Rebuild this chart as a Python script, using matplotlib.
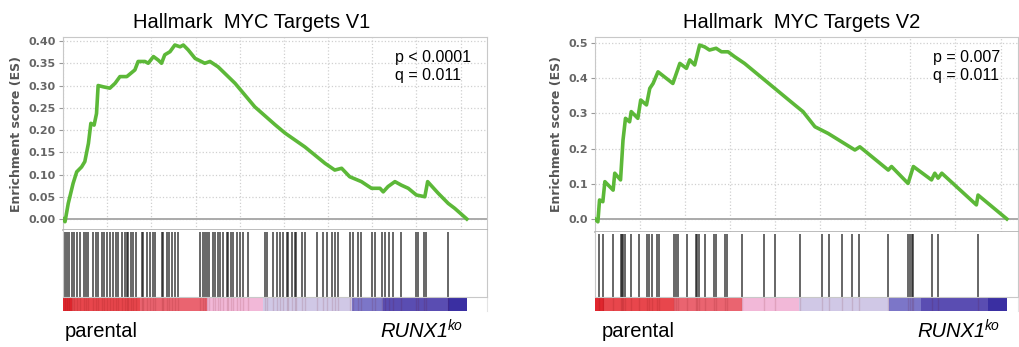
import matplotlib
matplotlib.use("Agg")
import matplotlib.pyplot as plt
from matplotlib.ticker import MultipleLocator, FormatStrFormatter

# running enrichment score, rank position scaled 0..1000
es1_rank = [0, 5, 13, 17, 25, 34, 46, 54, 63, 69, 77, 83, 87, 100, 116, 129, 141, 158, 178,
            186, 203, 211, 224, 236, 244, 252, 265, 277, 290, 298, 310, 327, 351, 364, 384,
            426, 475, 525, 550, 599, 649, 673, 690, 710, 739, 764, 785, 793, 805, 822, 838,
            855, 875, 896, 903, 929, 954, 970, 1000]
es1_score = [0.0, -0.006, 0.035, 0.05, 0.08, 0.106, 0.117, 0.129, 0.17, 0.215, 0.211, 0.237,
             0.30, 0.297, 0.294, 0.305, 0.32, 0.32, 0.335, 0.354, 0.354, 0.35, 0.365, 0.357,
             0.35, 0.369, 0.376, 0.391, 0.387, 0.391, 0.38, 0.361, 0.35, 0.354, 0.342, 0.305,
             0.252, 0.212, 0.193, 0.162, 0.125, 0.11, 0.114, 0.095, 0.084, 0.069, 0.069,
             0.061, 0.073, 0.084, 0.076, 0.069, 0.054, 0.05, 0.084, 0.058, 0.035, 0.024, 0.0]

es2_rank = [0, 7, 11, 19, 24, 44, 48, 62, 68, 74, 84, 88, 104, 111, 125, 133, 141, 153, 189,
            206, 222, 230, 242, 254, 266, 278, 294, 307, 323, 339, 363, 485, 505, 534, 566,
            631, 643, 712, 720, 760, 773, 817, 825, 833, 842, 926, 930, 1000]
es2_score = [0.0, -0.008, 0.054, 0.049, 0.106, 0.082, 0.13, 0.111, 0.224, 0.286, 0.276, 0.305,
             0.286, 0.338, 0.324, 0.371, 0.385, 0.418, 0.385, 0.442, 0.428, 0.452, 0.4375,
             0.494, 0.489, 0.48, 0.485, 0.475, 0.475, 0.461, 0.442, 0.324, 0.305, 0.262,
             0.243, 0.196, 0.205, 0.139, 0.149, 0.101, 0.149, 0.111, 0.13, 0.116, 0.13, 0.04,
             0.068, 0.0]

# gene set hits
hits1 = [5, 11, 16, 22, 27, 34, 42, 52, 57, 63, 75, 82, 87, 96, 101, 108, 116, 123, 131, 137,
         145, 153, 158, 162, 168, 174, 182, 195, 199, 209, 215, 224, 228, 244, 248, 257, 263,
         269, 277, 285, 339, 346, 351, 356, 362, 371, 376, 384, 390, 397, 405, 409, 415, 422,
         430, 438, 445, 459, 500, 505, 521, 529, 537, 545, 554, 558, 566, 574, 578, 591, 599,
         628, 644, 653, 665, 673, 681, 710, 718, 731, 739, 764, 772, 789, 797, 807, 818, 838,
         873, 879, 894, 900, 954]
hits2 = [10, 20, 43, 62, 65, 69, 73, 87, 108, 127, 132, 138, 151, 155, 192, 197, 202, 223,
         245, 248, 253, 267, 289, 294, 316, 320, 356, 410, 437, 498, 550, 569, 599, 625, 641,
         712, 760, 765, 769, 773, 817, 833, 930]

# ranked list metric colour bar
cb_edges = [0, 22, 191, 356, 495, 715, 792, 953, 1000]
cb_colors = ['#e0262e', '#e8464c', '#ea6470', '#f2b8d8', '#d0c8e6', '#7c76c8', '#5a4db2', '#3a2fa2']

panels = [
    dict(title='Hallmark  MYC Targets V1', rank=es1_rank, score=es1_score, hits=hits1,
         pq=['p < 0.0001', 'q = 0.011'], ylim=(-0.0247, 0.409), ystep=0.05, fmt='%.2f',
         xmax=1050, left=63, right=487, es_bot=230, tx=252, pqx=395,
         lab_l=65, lab_r=463),
    dict(title='Hallmark  MYC Targets V2', rank=es2_rank, score=es2_score, hits=hits2,
         pq=['p = 0.007', 'q = 0.011'], ylim=(-0.037, 0.517), ystep=0.1, fmt='%.1f',
         xmax=1027, left=595, right=1018, es_bot=232, tx=802, pqx=933,
         lab_l=602, lab_r=1000),
]

W, H = 1020, 347
fig = plt.figure(figsize=(W / 100, H / 100), dpi=100)
frame = '#c8c8c8'

for p in panels:
    x0 = p['left'] / W
    w = (p['right'] - p['left']) / W
    top, es_bot, hit_bot, cb_bot = 37, p['es_bot'], 297, 311
    ax = fig.add_axes([x0, 1 - es_bot / H, w, (es_bot - top) / H])
    axh = fig.add_axes([x0, 1 - hit_bot / H, w, (hit_bot - es_bot) / H])
    axc = fig.add_axes([x0, 1 - cb_bot / H, w, (cb_bot - hit_bot) / H])

    ax.plot(p['rank'], p['score'], color='#5cb838', lw=2.6, solid_joinstyle='round', zorder=3)
    ax.axhline(0, color='#aaaaaa', lw=1.4, zorder=2)
    ax.set_xlim(0, p['xmax'])
    ax.set_ylim(*p['ylim'])
    ax.yaxis.set_major_locator(MultipleLocator(p['ystep']))
    ax.yaxis.set_major_formatter(FormatStrFormatter(p['fmt']))
    ax.xaxis.set_major_locator(MultipleLocator(109.4))
    ax.grid(True, ls=':', color='#d0d0d0', lw=0.9)
    ax.set_xticklabels([])
    ax.tick_params(axis='x', length=0)
    ax.tick_params(axis='y', length=3, color='#999999', labelsize=8, labelcolor='#666666', pad=2)
    for lab in ax.get_yticklabels():
        lab.set_fontweight('bold')
    ax.set_ylabel('Enrichment score (ES)', fontsize=9, fontweight='bold', color='#555555', labelpad=4)
    for s in ax.spines.values():
        s.set_color(frame)
    ax.spines['bottom'].set_color('#b0b0b0')
    ax.spines['bottom'].set_linewidth(1.2)

    ax.text((p['pqx'] - p['left']) / (p['right'] - p['left']), 0.935, p['pq'][0] + '\n' + p['pq'][1],
            transform=ax.transAxes, ha='left', va='top', fontsize=11.5,
            family='Liberation Sans', linespacing=1.25)

    axh.vlines(p['hits'], 0, 0.97, color='#151515', alpha=0.7, lw=1.3)
    axh.set_xlim(0, p['xmax'])
    axh.set_ylim(0, 1)
    axh.set_xticks([])
    axh.set_yticks([])
    for s in axh.spines.values():
        s.set_color(frame)
    axh.spines['top'].set_visible(False)
    axh.spines['bottom'].set_visible(False)

    widths = [b - a for a, b in zip(cb_edges[:-1], cb_edges[1:])]
    axc.bar(cb_edges[:-1], [1] * len(widths), width=widths, align='edge', color=cb_colors, lw=0)
    axc.vlines(p['hits'], 0, 1, color='#600000', alpha=0.12, lw=1.0)
    axc.set_xlim(0, p['xmax'])
    axc.set_ylim(0, 1)
    axc.set_xticks([])
    axc.set_yticks([])
    for s in axc.spines.values():
        s.set_visible(False)
    axc.spines['top'].set_visible(True)
    axc.spines['top'].set_color(frame)
    axc.spines['right'].set_visible(True)
    axc.spines['right'].set_color('#e4e4e4')

    fig.text(p['tx'] / W, 1 - 28 / H, p['title'], ha='center', va='baseline',
             fontsize=14.5, family='Liberation Sans')
    fig.text(p['lab_l'] / W, 1 - 337 / H, 'parental', ha='left', va='baseline',
             fontsize=14.5, family='Liberation Sans')
    # RUNX1 with superscript ko, right aligned
    ko = fig.text(p['lab_r'] / W, 1 - 330 / H, 'ko', ha='right', va='baseline',
                  fontsize=10, style='italic', family='Liberation Sans')
    fig.canvas.draw()
    kw = ko.get_window_extent().width
    fig.text((p['lab_r'] - kw) / W, 1 - 337 / H, 'RUNX1', ha='right', va='baseline',
             fontsize=14.5, style='italic', family='Liberation Sans')

fig.savefig('out.png', dpi=100)
